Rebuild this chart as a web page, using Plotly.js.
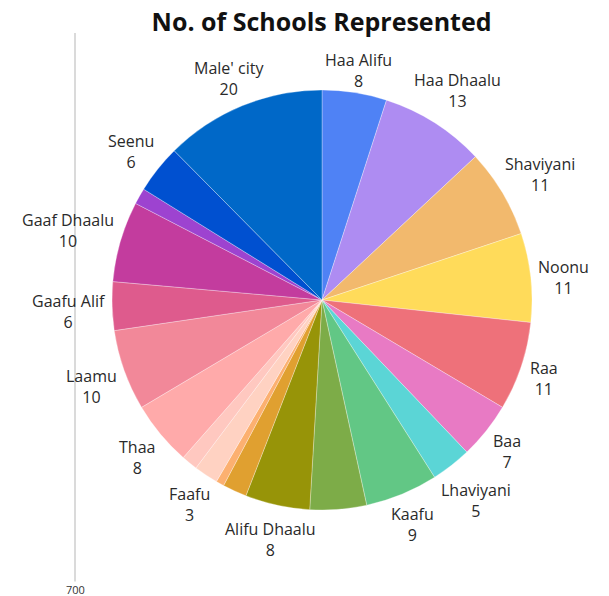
<!DOCTYPE html>
<html>
<head>
<meta charset="utf-8">
<script src="https://cdn.plot.ly/plotly-3.0.1.min.js"></script>
<style>html,body{margin:0;padding:0;background:#fff;}#chart{width:609px;height:596px;}</style>
</head>
<body>
<div id="chart"></div>
<script>
const atolls = ["Haa Alifu","Haa Dhaalu","Shaviyani","Noonu","Raa","Baa","Lhaviyani","Kaafu","Alifu Alifu","Alifu Dhaalu","Vaavu","Meemu","Faafu","Dhaalu","Thaa","Laamu","Gaafu Alif","Gaaf Dhaalu","Fuvahmulah","Seenu","Male' city"];
const schools = [8,13,11,11,11,7,5,9,7,8,3,1,3,2,8,10,6,10,2,6,20];
const showLabel = [true,true,true,true,true,true,true,true,false,true,false,false,true,false,true,true,true,true,false,true,true];
const colors = ["#4f82f5","#ae8cf2","#f2b96d","#ffdb5a","#ee717a","#e87ac4","#5bd5d6","#62c785","#7dac48","#979408","#e0a030","#fcb070","#ffd2c2","#ffc8c0","#ffaaaa","#f28899","#de5b8d","#c33c9e","#9d43d0","#0050d0","#0068c8"];
const axisTick = "700";

const W = 609, H = 596;
const M = {l: 80, r: 45, t: 90, b: 86};
const plotW = W - M.l - M.r, plotH = H - M.t - M.b;
const radius = Math.min(plotW, plotH) / 2;
const labelFont = 16;

const trace = {
  type: "pie",
  labels: atolls,
  values: schools,
  sort: false,
  direction: "clockwise",
  rotation: 0,
  textinfo: "none",
  hoverinfo: "label+value",
  marker: {colors: colors, line: {color: "rgba(255,255,255,0.6)", width: 0.5}}
};

// Outside labels: placed along each slice's mid-angle, just clear of the pie edge
const ctx = document.createElement("canvas").getContext("2d");
ctx.font = labelFont + 'px "Open Sans"';
const total = schools.reduce((a, b) => a + b, 0);
const labelAnns = [];
let cum = 0;
schools.forEach((v, i) => {
  const mid = (cum + v / 2) / total * 2 * Math.PI;
  cum += v;
  if (!showLabel[i]) return;
  const w = Math.max(ctx.measureText(atolls[i]).width, ctx.measureText(String(v)).width);
  const h = 31;
  const ux = Math.sin(mid), uy = Math.cos(mid);
  const d = radius + 6 + Math.abs(ux) * w / 2 + Math.abs(uy) * h / 2;
  labelAnns.push({
    text: atolls[i] + "<br>" + v,
    xref: "paper", yref: "paper", x: 0.5, y: 0.5,
    xshift: d * ux, yshift: d * uy - 4,
    xanchor: "center", yanchor: "middle",
    showarrow: false,
    font: {family: "Open Sans", size: labelFont, color: "#2a2a2a"}
  });
});

const layout = {
  width: W,
  height: H,
  margin: M,
  paper_bgcolor: "#fff",
  showlegend: false,
  title: {text: "No. of Schools Represented", x: 0.528, xanchor: "center", y: 0.962, yanchor: "middle",
          font: {family: "Open Sans", size: 25, color: "#111", weight: "bold"}},
  shapes: [{type: "line", xref: "paper", yref: "paper", x0: -0.0103, x1: -0.0103, y0: 1.136, y1: -0.17,
            line: {color: "#dadada", width: 2}}],
  annotations: labelAnns.concat([{text: axisTick, xref: "paper", yref: "paper", x: -0.0103, y: -0.19, xanchor: "center", yanchor: "middle",
                 showarrow: false, font: {family: "Open Sans", size: 11, color: "#333"}}])
};

Plotly.newPlot("chart", [trace], layout, {displayModeBar: false});
</script>
</body>
</html>
